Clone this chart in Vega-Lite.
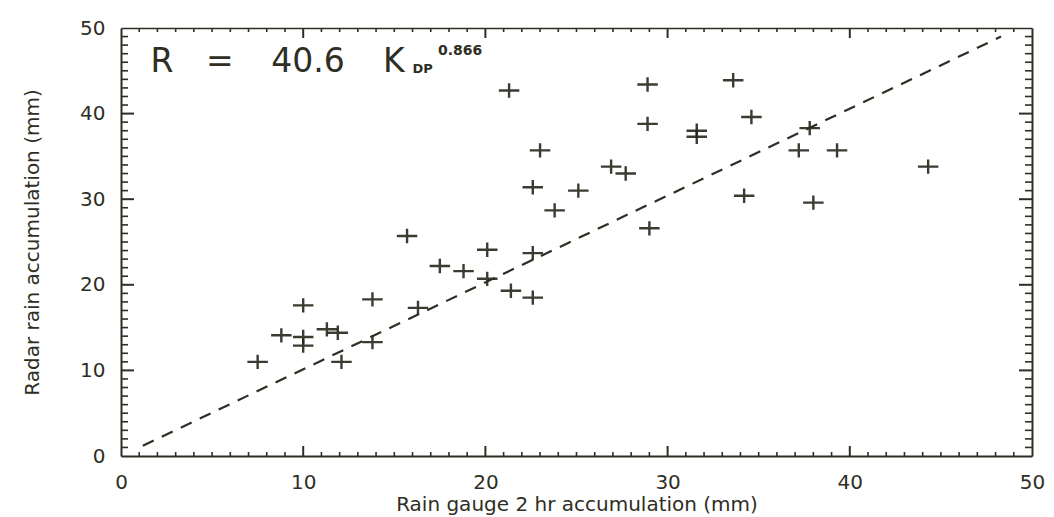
{
  "$schema": "https://vega.github.io/schema/vega-lite/v6.json",
  "autosize": {"type": "none"},
  "width": 911,
  "height": 428,
  "padding": {"left": 121, "top": 28, "right": 22, "bottom": 61},
  "background": "white",
  "config": {
    "view": {"stroke": null},
    "font": "DejaVu Sans",
    "axis": {
      "domainColor": "#2e2e24",
      "domainWidth": 2,
      "labelColor": "#2e2e24",
      "titleColor": "#2e2e24",
      "labelFontSize": 20,
      "titleFontSize": 20,
      "titleFontWeight": "normal",
      "labelFlush": false,
      "grid": false
    }
  },
  "datasets": {
    "points": [
      {"gauge": 7.5, "radar": 11.0},
      {"gauge": 8.8, "radar": 14.1},
      {"gauge": 10.0, "radar": 17.6},
      {"gauge": 10.0, "radar": 13.9},
      {"gauge": 10.0, "radar": 12.9},
      {"gauge": 11.3, "radar": 14.8},
      {"gauge": 11.9, "radar": 14.4},
      {"gauge": 12.1, "radar": 11.0},
      {"gauge": 13.8, "radar": 13.3},
      {"gauge": 13.8, "radar": 18.3},
      {"gauge": 15.7, "radar": 25.7},
      {"gauge": 16.3, "radar": 17.3},
      {"gauge": 17.5, "radar": 22.2},
      {"gauge": 18.8, "radar": 21.6},
      {"gauge": 20.1, "radar": 24.1},
      {"gauge": 20.1, "radar": 20.7},
      {"gauge": 21.3, "radar": 42.7},
      {"gauge": 21.4, "radar": 19.3},
      {"gauge": 22.6, "radar": 31.4},
      {"gauge": 22.6, "radar": 23.7},
      {"gauge": 22.6, "radar": 18.5},
      {"gauge": 23.0, "radar": 35.7},
      {"gauge": 23.8, "radar": 28.7},
      {"gauge": 25.1, "radar": 31.0},
      {"gauge": 26.9, "radar": 33.8},
      {"gauge": 27.7, "radar": 33.0},
      {"gauge": 28.9, "radar": 43.4},
      {"gauge": 28.9, "radar": 38.8},
      {"gauge": 29.0, "radar": 26.6},
      {"gauge": 31.6, "radar": 38.0},
      {"gauge": 31.6, "radar": 37.3},
      {"gauge": 33.6, "radar": 43.9},
      {"gauge": 34.6, "radar": 39.6},
      {"gauge": 34.2, "radar": 30.4},
      {"gauge": 37.2, "radar": 35.7},
      {"gauge": 37.8, "radar": 38.3},
      {"gauge": 38.0, "radar": 29.6},
      {"gauge": 39.3, "radar": 35.7},
      {"gauge": 44.3, "radar": 33.8}
    ],
    "oneToOne": [
      {"gauge": 1.2, "radar": 1.2},
      {"gauge": 48.3, "radar": 49.0}
    ],
    "formulaMain": [
      {"gauge": 2.25, "radar": 44.9, "text": "R"},
      {"gauge": 5.43, "radar": 44.9, "text": "="},
      {"gauge": 10.26, "radar": 44.9, "text": "40.6"},
      {"gauge": 14.98, "radar": 44.9, "text": "K"}
    ],
    "formulaSub": [
      {"gauge": 16.0, "radar": 44.7, "text": "DP"}
    ],
    "formulaSup": [
      {"gauge": 17.4, "radar": 46.85, "text": "0.866"}
    ],
    "majorTicks": [
      {"value": 10}, {"value": 20}, {"value": 30}, {"value": 40}
    ],
    "minorTicks": [
      {"value": 1}, {"value": 2}, {"value": 3}, {"value": 4}, {"value": 5}, {"value": 6}, {"value": 7}, {"value": 8}, {"value": 9},
      {"value": 11}, {"value": 12}, {"value": 13}, {"value": 14}, {"value": 15}, {"value": 16}, {"value": 17}, {"value": 18}, {"value": 19},
      {"value": 21}, {"value": 22}, {"value": 23}, {"value": 24}, {"value": 25}, {"value": 26}, {"value": 27}, {"value": 28}, {"value": 29},
      {"value": 31}, {"value": 32}, {"value": 33}, {"value": 34}, {"value": 35}, {"value": 36}, {"value": 37}, {"value": 38}, {"value": 39},
      {"value": 41}, {"value": 42}, {"value": 43}, {"value": 44}, {"value": 45}, {"value": 46}, {"value": 47}, {"value": 48}, {"value": 49}
    ]
  },
  "layer": [
    {
      "data": {"name": "points"},
      "mark": {"type": "point", "shape": "M-1,0H1M0,-0.7V0.7", "size": 420, "filled": false, "stroke": "#26261c", "strokeWidth": 2.4, "opacity": 0.9},
      "encoding": {
        "x": {
          "field": "gauge", "type": "quantitative",
          "scale": {"domain": [0, 50], "nice": false, "zero": false},
          "axis": {
            "orient": "bottom",
            "title": "Rain gauge 2 hr accumulation (mm)",
            "values": [0, 10, 20, 30, 40, 50],
            "ticks": false,
            "tickSize": 0,
            "labelPadding": 16,
            "titlePadding": 2
          }
        },
        "y": {
          "field": "radar", "type": "quantitative",
          "scale": {"domain": [0, 50], "nice": false, "zero": false},
          "axis": {
            "orient": "left",
            "title": "Radar rain accumulation (mm)",
            "values": [0, 10, 20, 30, 40, 50],
            "ticks": false,
            "tickSize": 0,
            "labelPadding": 16,
            "titlePadding": 37
          }
        }
      }
    },
    {
      "data": {"name": "oneToOne"},
      "mark": {"type": "line", "stroke": "#2e2e24", "strokeWidth": 2.2, "strokeDash": [12, 9]},
      "encoding": {
        "x": {"field": "gauge", "type": "quantitative", "axis": {
          "orient": "top", "title": null, "labels": false, "ticks": false, "tickSize": 0, "domainWidth": 1.6
        }},
        "y": {"field": "radar", "type": "quantitative", "axis": {
          "orient": "right", "title": null, "labels": false, "ticks": false, "tickSize": 0
        }}
      }
    },
    {
      "data": {"name": "formulaMain"},
      "mark": {"type": "text", "align": "center", "baseline": "alphabetic", "fill": "#2e2e24", "fontSize": 33},
      "encoding": {
        "x": {"field": "gauge", "type": "quantitative", "axis": null},
        "y": {"field": "radar", "type": "quantitative", "axis": null},
        "text": {"field": "text"}
      }
    },
    {
      "data": {"name": "formulaSub"},
      "mark": {"type": "text", "align": "left", "baseline": "alphabetic", "fill": "#2e2e24", "fontWeight": "bold", "fontSize": 13},
      "encoding": {
        "x": {"field": "gauge", "type": "quantitative", "axis": null},
        "y": {"field": "radar", "type": "quantitative", "axis": null},
        "text": {"field": "text"}
      }
    },
    {
      "data": {"name": "formulaSup"},
      "mark": {"type": "text", "align": "left", "baseline": "alphabetic", "fill": "#2e2e24", "fontWeight": "bold", "fontSize": 14},
      "encoding": {
        "x": {"field": "gauge", "type": "quantitative", "axis": null},
        "y": {"field": "radar", "type": "quantitative", "axis": null},
        "text": {"field": "text"}
      }
    },
    {
      "data": {"name": "majorTicks"},
      "mark": {"type": "point", "shape": "M0,0V-1", "size": 400, "filled": false, "stroke": "#2e2e24", "strokeWidth": 2, "opacity": 1},
      "encoding": {
        "x": {"field": "value", "type": "quantitative", "axis": null},
        "y": {"datum": 0, "type": "quantitative", "axis": null}
      }
    },
    {
      "data": {"name": "majorTicks"},
      "mark": {"type": "point", "shape": "M0,0V1", "size": 400, "filled": false, "stroke": "#2e2e24", "strokeWidth": 2, "opacity": 1},
      "encoding": {
        "x": {"field": "value", "type": "quantitative", "axis": null},
        "y": {"datum": 50, "type": "quantitative", "axis": null}
      }
    },
    {
      "data": {"name": "majorTicks"},
      "mark": {"type": "point", "shape": "M0,0H1", "size": 676, "filled": false, "stroke": "#2e2e24", "strokeWidth": 2, "opacity": 1},
      "encoding": {
        "y": {"field": "value", "type": "quantitative", "axis": null},
        "x": {"datum": 0, "type": "quantitative", "axis": null}
      }
    },
    {
      "data": {"name": "majorTicks"},
      "mark": {"type": "point", "shape": "M0,0H-1", "size": 676, "filled": false, "stroke": "#2e2e24", "strokeWidth": 2, "opacity": 1},
      "encoding": {
        "y": {"field": "value", "type": "quantitative", "axis": null},
        "x": {"datum": 50, "type": "quantitative", "axis": null}
      }
    },
    {
      "data": {"name": "minorTicks"},
      "mark": {"type": "point", "shape": "M0,0V-1", "size": 64, "filled": false, "stroke": "#2e2e24", "strokeWidth": 1.6, "opacity": 1},
      "encoding": {
        "x": {"field": "value", "type": "quantitative", "axis": null},
        "y": {"datum": 0, "type": "quantitative", "axis": null}
      }
    },
    {
      "data": {"name": "minorTicks"},
      "mark": {"type": "point", "shape": "M0,0V1", "size": 64, "filled": false, "stroke": "#2e2e24", "strokeWidth": 1.6, "opacity": 1},
      "encoding": {
        "x": {"field": "value", "type": "quantitative", "axis": null},
        "y": {"datum": 50, "type": "quantitative", "axis": null}
      }
    },
    {
      "data": {"name": "minorTicks"},
      "mark": {"type": "point", "shape": "M0,0H1", "size": 196, "filled": false, "stroke": "#2e2e24", "strokeWidth": 1.6, "opacity": 1},
      "encoding": {
        "y": {"field": "value", "type": "quantitative", "axis": null},
        "x": {"datum": 0, "type": "quantitative", "axis": null}
      }
    },
    {
      "data": {"name": "minorTicks"},
      "mark": {"type": "point", "shape": "M0,0H-1", "size": 196, "filled": false, "stroke": "#2e2e24", "strokeWidth": 1.6, "opacity": 1},
      "encoding": {
        "y": {"field": "value", "type": "quantitative", "axis": null},
        "x": {"datum": 50, "type": "quantitative", "axis": null}
      }
    }
  ],
  "resolve": {"axis": {"x": "independent", "y": "independent"}}
}
